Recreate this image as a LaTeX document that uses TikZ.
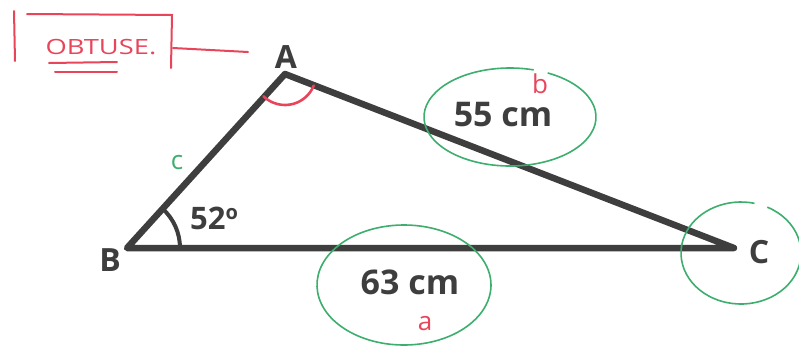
\documentclass[tikz,border=0pt]{standalone}
\usepackage{fontspec}
\setmainfont{Open Sans}
\definecolor{ink}{HTML}{3E3E3E}
\definecolor{pen}{HTML}{E8455B}
\definecolor{hlgreen}{HTML}{3DAE6E}
\begin{document}
\begin{tikzpicture}[x=1pt,y=-1pt,
  side/.style={ink,line width=6.5pt,line join=round},
  vlabel/.style={ink,inner sep=0pt,font=\fontsize{32}{34}\selectfont\bfseries},
  meas/.style={ink,inner sep=0pt,font=\fontsize{34}{36}\selectfont\bfseries},
  loop/.style={hlgreen,line width=1.6pt},
  redpen/.style={pen,line width=2pt,line cap=round},
  hand/.style={inner sep=0pt,font=\fontsize{26}{28}\selectfont}]
\useasboundingbox (0,0) rectangle (799,346);
\fill[white] (0,0) rectangle (799,346);
% triangle
\coordinate (A) at (285,74);
\coordinate (B) at (127,248);
\coordinate (C) at (734,248);
\draw[side] (A) -- (B) -- (C) -- cycle;
\node[vlabel] (lA) at (286,57) {A};
\node[vlabel] (lB) at (110,260) {B};
\node[vlabel] (lC) at (759,252) {C};
% angle at B
\draw[ink,line width=4pt] ([shift={(0:53)}]B) arc[start angle=0,end angle=-48,radius=53];
\node[meas,font=\fontsize{31}{33}\selectfont\bfseries] (ang) at (214,218) {52{\fontsize{20}{20}\selectfont\raisebox{10pt}{o}}};
% angle at A
\draw[redpen,line width=2.6pt] ([shift={(134:31)}]A) arc[start angle=134,end angle=22,radius=31];
% side lengths
\node[meas] (b55) at (503,115) {55 cm};
\node[meas] (a63) at (410,282) {63 cm};
% green loops
\draw[loop] (510,117) ++(-64:86 and 49) arc[start angle=-64,end angle=286,x radius=86,y radius=49];
\draw[loop] (404,285) ++(-52:87 and 60) arc[start angle=-52,end angle=-420,x radius=87,y radius=60];
\draw[loop] (741,253) ++(-64:60 and 51) arc[start angle=-64,end angle=283,x radius=60,y radius=51];
% side letters
\node[hand,hlgreen] (lc) at (177,163) {c};
\node[hand,pen] (lb) at (540,84) {b};
\node[hand,pen] (la) at (425,324) {a};
% obtuse note
\node[inner sep=0pt,pen,font=\fontsize{21}{22}\selectfont,xscale=1.3] (ob) at (101,47) {OBTUSE.};
\draw[redpen] (14,11) -- (15,61);
\draw[redpen] (27,14) -- (172,15) -- (171,68);
\draw[redpen] (173,48) -- (248,52);
\draw[redpen] (49,63) -- (117,62);
\draw[redpen] (55,72) -- (117,72);
\end{tikzpicture}
\end{document}
